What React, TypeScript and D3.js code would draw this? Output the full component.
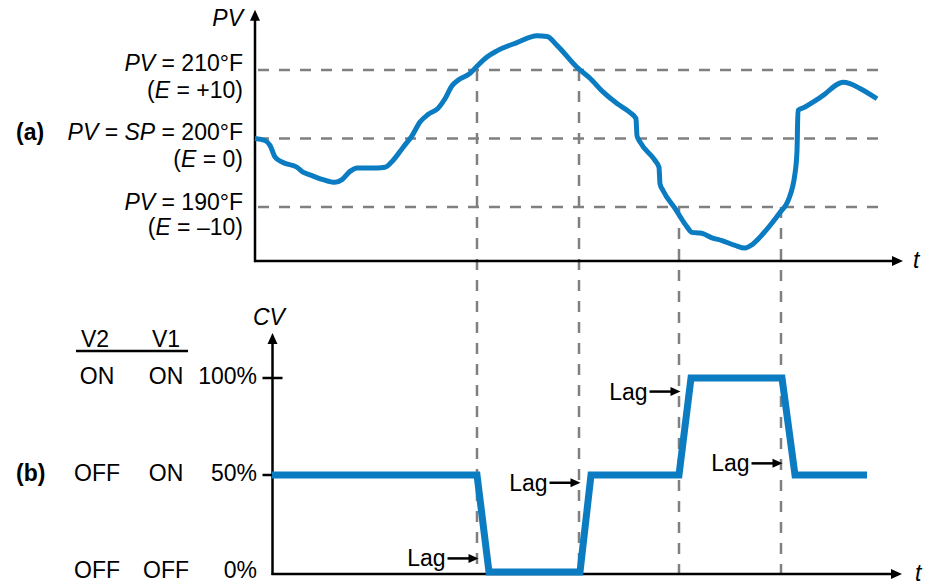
import React from 'react';
import * as d3 from 'd3';

// PV trace (time units, °F)
const pvT = [0, 10, 15, 20, 28, 42, 48, 55, 68, 80, 87, 95, 102, 122, 130, 138, 148, 157, 165, 173, 183, 190, 197, 203, 215, 223, 232, 242, 262, 282, 292, 302, 322, 335, 348, 362, 375, 381, 382, 385, 400, 404, 405, 408, 420, 432, 437, 445, 448, 457, 467, 480, 490, 497, 505, 515, 525, 533, 540, 542, 543, 550, 558, 570, 580, 588, 595, 605, 622];
const pvV = [200.0, 199.7, 199.0, 197.3, 196.5, 195.8, 195.1, 194.7, 194.0, 193.6, 194.0, 195.2, 195.7, 195.7, 195.8, 196.8, 198.7, 200.4, 202.4, 203.5, 204.4, 205.8, 207.7, 208.5, 209.5, 210.7, 211.9, 212.8, 214.0, 215.0, 214.9, 213.6, 210.4, 208.8, 206.8, 205.1, 203.8, 202.9, 200.4, 199.5, 196.8, 195.8, 193.4, 192.4, 189.8, 187.1, 186.3, 186.2, 186.1, 185.5, 185.1, 184.4, 184.0, 184.5, 185.6, 187.3, 189.2, 190.9, 194.9, 198.2, 204.1, 204.6, 205.3, 206.5, 207.7, 208.2, 208.0, 207.3, 205.8];

// CV output (time units, %)
const cvT = [17, 222, 234, 325, 336, 424, 436, 527, 540, 612];
const cvV = [50, 50, 0, 0, 50, 50, 100, 100, 50, 50];

// threshold crossings and lag annotations
const crossT = [222, 324, 424, 526];
const crossPV = [210, 210, 190, 190];
const lagCV = [7, 46, 93, 56];

// reference levels
const refPV = [210, 200, 190];
const refMain = ['= 210°F', '= SP = 200°F', '= 190°F'];
const refE = ['+10', '0', '–10'];

// CV levels and valve states
const cvTicks = [100, 50, 0];
const v2States = ['ON', 'OFF', 'OFF'];
const v1States = ['ON', 'ON', 'OFF'];

const BLUE = '#0b7cc1';
const GRAY = '#808080';
const FONT = '"Liberation Sans", Arial, Helvetica, sans-serif';

export default function App() {
  const x = d3.scaleLinear().domain([0, 650]).range([255, 905]);
  const yPV = d3.scaleLinear().domain([190, 210]).range([207, 70]);
  const yCV = d3.scaleLinear().domain([0, 100]).range([572, 378]);

  const pvData = pvT.map((t, i) => [t, pvV[i]] as [number, number]);
  const cvData = cvT.map((t, i) => [t, cvV[i]] as [number, number]);

  const pvLine = d3.line<[number, number]>()
    .x(d => x(d[0]))
    .y(d => yPV(d[1]))
    .curve(d3.curveMonotoneX);
  const cvLine = d3.line<[number, number]>()
    .x(d => x(d[0]))
    .y(d => yCV(d[1]));

  // axes geometry
  const topAxX = x(0);
  const topAxY = yPV(182.1);
  const topTip = yPV(218.8);
  const topXTip = x(648);
  const botAxX = x(17.5);
  const botAxY = yCV(0) + 2;
  const botTip = yCV(123.2);
  const botXTip = x(647);
  const dashEnd = x(629);

  const arrowUp = (cx: number, tip: number) =>
    `M${cx},${tip} L${cx - 5},${tip + 11} L${cx + 5},${tip + 11} Z`;
  const arrowRight = (tip: number, cy: number) =>
    `M${tip},${cy} L${tip - 11},${cy - 5} L${tip - 11},${cy + 5} Z`;

  const fs = 23;

  return (
    <svg width={926} height={585} style={{ position: 'absolute', left: 0, top: 0, background: '#fff' }}
      fontFamily={FONT} fontSize={fs}>
      <rect width={926} height={585} fill="#fff" />

      {/* reference dashed lines */}
      {refPV.map((v, i) => (
        <line key={'h' + i} x1={topAxX + 3} x2={dashEnd} y1={yPV(v)} y2={yPV(v)}
          stroke={GRAY} strokeWidth={2.5} strokeDasharray="11 10" />
      ))}
      {crossT.map((t, i) => (
        <line key={'v' + i} x1={x(t)} x2={x(t)} y1={yPV(crossPV[i])} y2={botAxY}
          stroke={GRAY} strokeWidth={2.5} strokeDasharray="11 10" />
      ))}

      {/* top axes */}
      <line x1={topAxX} x2={topAxX} y1={topAxY + 1} y2={topTip + 8} stroke="#000" strokeWidth={2.5} />
      <path d={arrowUp(topAxX, topTip)} fill="#000" />
      <line x1={topAxX - 1} x2={topXTip - 8} y1={topAxY} y2={topAxY} stroke="#000" strokeWidth={2.5} />
      <path d={arrowRight(topXTip, topAxY)} fill="#000" />

      {/* bottom axes */}
      <line x1={botAxX} x2={botAxX} y1={botAxY + 1} y2={botTip + 8} stroke="#000" strokeWidth={2.5} />
      <path d={arrowUp(botAxX, botTip)} fill="#000" />
      <line x1={botAxX - 1} x2={botXTip - 8} y1={botAxY} y2={botAxY} stroke="#000" strokeWidth={2.5} />
      <path d={arrowRight(botXTip, botAxY)} fill="#000" />

      {/* CV ticks */}
      <line x1={botAxX - 10} x2={botAxX + 10} y1={yCV(100)} y2={yCV(100)} stroke="#000" strokeWidth={2.5} />
      <line x1={botAxX - 10} x2={botAxX} y1={yCV(50)} y2={yCV(50)} stroke="#000" strokeWidth={2.5} />

      {/* PV curve */}
      <path d={pvLine(pvData) || ''} fill="none" stroke={BLUE} strokeWidth={5} strokeLinejoin="round" />

      {/* CV step */}
      <path d={cvLine(cvData) || ''} fill="none" stroke={BLUE} strokeWidth={7} strokeLinejoin="miter" strokeMiterlimit={10} />

      {/* Lag annotations */}
      {crossT.map((t, i) => {
        const tipX = x(t) + 1.5;
        const cy = yCV(lagCV[i]);
        const startX = tipX - 31;
        return (
          <g key={'lag' + i}>
            <line x1={startX} x2={tipX - 8} y1={cy} y2={cy} stroke="#000" strokeWidth={2.5} />
            <path d={`M${tipX},${cy} L${tipX - 10},${cy - 4.5} L${tipX - 10},${cy + 4.5} Z`} fill="#000" />
            <text x={startX - 2} y={cy + 8} textAnchor="end">Lag</text>
          </g>
        );
      })}

      {/* top labels */}
      <text x={243} y={26} textAnchor="end" fontStyle="italic">PV</text>
      {refPV.map((v, i) => (
        <g key={'rl' + i}>
          <text x={243} y={yPV(v) + (i === 2 ? 2.5 : 1)} textAnchor="end">
            <tspan fontStyle="italic">PV</tspan>
            {i === 1 ? <tspan> = <tspan fontStyle="italic">SP</tspan> = 200°F</tspan> : <tspan> {refMain[i]}</tspan>}
          </text>
          <text x={243} y={yPV(v) + 28} textAnchor="end">
            (<tspan fontStyle="italic">E</tspan> = {refE[i]})
          </text>
        </g>
      ))}
      <text x={16} y={yPV(200) + 1} fontWeight="bold">(a)</text>
      <text x={913} y={268} fontStyle="italic">t</text>

      {/* bottom labels */}
      <text x={253} y={325} fontStyle="italic">CV</text>
      <text x={95} y={347} textAnchor="middle">V2</text>
      <text x={166} y={347} textAnchor="middle">V1</text>
      <line x1={76} x2={188} y1={351} y2={351} stroke="#000" strokeWidth={2.5} />
      {cvTicks.map((v, i) => (
        <g key={'ct' + i}>
          <text x={97} y={yCV(v) + 6} textAnchor="middle">{v2States[i]}</text>
          <text x={166} y={yCV(v) + 6} textAnchor="middle">{v1States[i]}</text>
          <text x={257} y={yCV(v) + 6} textAnchor="end">{v}%</text>
        </g>
      ))}
      <text x={16} y={yCV(50) + 6} fontWeight="bold">(b)</text>
      <text x={915} y={581} fontStyle="italic">t</text>
    </svg>
  );
}
